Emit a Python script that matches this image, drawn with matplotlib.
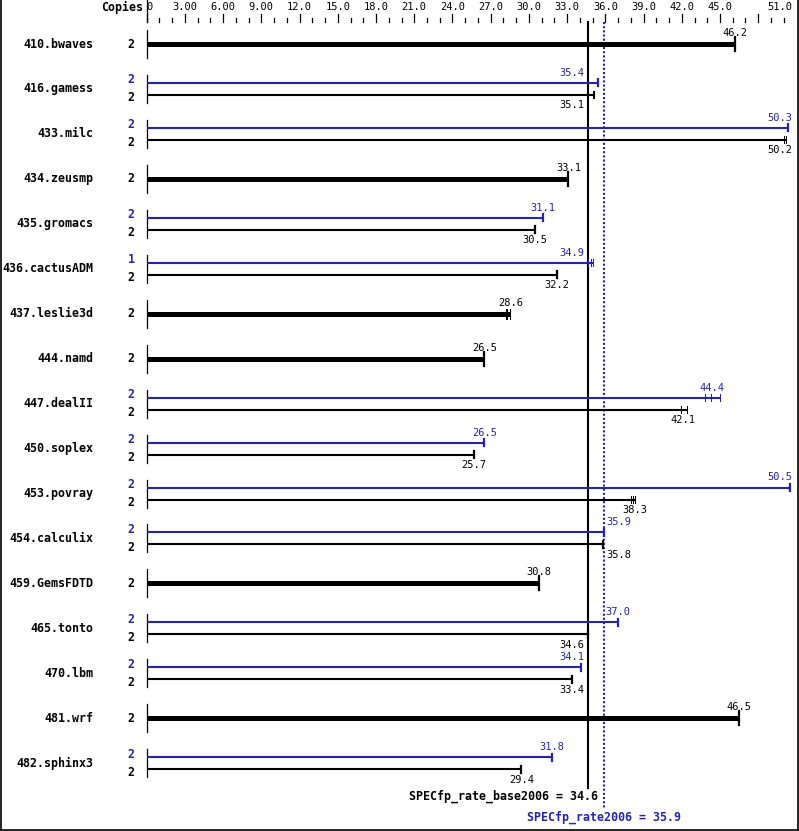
import numpy as np
from matplotlib import pyplot as plt

benchmarks = ['410.bwaves', '416.gamess', '433.milc', '434.zeusmp', '435.gromacs',
              '436.cactusADM', '437.leslie3d', '444.namd', '447.dealII', '450.soplex',
              '453.povray', '454.calculix', '459.GemsFDTD', '465.tonto', '470.lbm',
              '481.wrf', '482.sphinx3']
base_copies = [2, 2, 2, 2, 2, 2, 2, 2, 2, 2, 2, 2, 2, 2, 2, 2, 2]
peak_copies = [None, 2, 2, None, 2, 1, None, None, 2, 2, 2, 2, None, 2, 2, None, 2]
base_ratio = [46.2, 35.1, 50.2, 33.1, 30.5, 32.2, 28.6, 26.5, 42.1, 25.7,
              38.3, 35.8, 30.8, 34.6, 33.4, 46.5, 29.4]
peak_ratio = [None, 35.4, 50.3, None, 31.1, 34.9, None, None, 44.4, 26.5,
              50.5, 35.9, None, 37.0, 34.1, None, 31.8]
# other runs (small tick marks near the bar end)
base_runs = {'433.milc': [50.05, 50.2], '437.leslie3d': [28.2, 28.32, 28.55],
             '447.dealII': [41.9, 42.4], '453.povray': [38.05, 38.2, 38.35],
             '416.gamess': [35.0, 35.1]}
peak_runs = {'436.cactusADM': [34.65, 34.85, 35.05], '447.dealII': [43.8, 44.3, 45.0]}
base_mean = 34.6
peak_mean = 35.9
tick_labels = ['0', '3.00', '6.00', '9.00', '12.0', '15.0', '18.0', '21.0', '24.0',
               '27.0', '30.0', '33.0', '36.0', '39.0', '42.0', '45.0']
axis_max_label = '51.0'

BLUE = '#2424a8'
W, H = 799, 831
PX = 12.74       # pixels per unit
X0 = 146.7       # pixel position of 0


def px(v):
    # pixel width -> data width
    return v / PX


fig = plt.figure(figsize=(W / 100, H / 100), dpi=100)
ax = fig.add_axes([0, 0, 1, 1])
ax.set_xlim(-X0 / PX, (W - X0) / PX)
ax.set_ylim(H, 0)
ax.axis('off')

mono = 'DejaVu Sans Mono'
vsize = 7.5

# top scale
ax.plot([0, 0], [0, 22], color='black', lw=0.9)
for t in range(0, 51):
    top = 14 if (t % 3 == 0) else 18
    ax.plot([t, t], [top, 22], color='black', lw=0.9)
for i, lab in enumerate(tick_labels):
    ha = 'left' if i == 0 else 'center'
    ax.text(i * 3, 7, lab, ha=ha, va='center', fontsize=vsize, family=mono)
ax.text(px(W - 7 - X0), 7, axis_max_label, ha='right', va='center', fontsize=vsize, family=mono)
ax.text(-px(4), 7, 'Copies', ha='right', va='center', fontsize=8.4, family=mono, weight='bold')

# mean lines
ax.plot([base_mean, base_mean], [22, 788], color='black', lw=1.5)
ax.plot([peak_mean, peak_mean], [22, 808], color=BLUE, lw=1.5, ls=(0, (1, 1)))


def label_x(v):
    # place value label, avoid the mean lines like the original does
    c = X0 + v * PX
    half = 12.5
    line_b = X0 + base_mean * PX
    line_p = X0 + peak_mean * PX
    if c + half > line_b - 1 and c - half < line_p + 1:
        if c < (line_b + line_p) / 2 + 3:
            return px(line_b - 3 - X0), 'right'
        return px(line_p + 2 - X0), 'left'
    if c + half > W - 7:
        return px(W - 7 - X0), 'right'
    return v, 'center'


def draw_bar(y, v, runs, color, lw, cap, label_dy):
    end = max(runs) if runs else v
    ax.plot([0, end], [y, y], color=color, lw=lw, solid_capstyle='butt')
    if runs:
        for r in runs:
            ax.plot([r, r], [y - min(cap, 5), y + min(cap, 5)], color=color, lw=0.75)
    else:
        ax.plot([v, v], [y - cap, y + cap], color=color, lw=1.6)
    lx, ha = label_x(v)
    ax.text(lx, y + label_dy, f'{v:.1f}', ha=ha, va='center', fontsize=vsize,
            family=mono, color=color)


for i, name in enumerate(benchmarks):
    c = 44 + 44.95 * i
    ax.plot([0, 0], [c - 14, c + 14], color='black', lw=0.9)
    ax.text(-px(X0 - 93), c, name, ha='right', va='center', fontsize=8.4,
            family=mono, weight='bold')
    if peak_ratio[i] is None:
        ax.text(-px(X0 - 131), c, str(base_copies[i]), ha='center', va='center',
                fontsize=8.4, family=mono, weight='bold')
        draw_bar(c, base_ratio[i], base_runs.get(name), 'black', 3.6, 7, -11)
    else:
        yp, yb = c - 6, c + 6
        ax.text(-px(X0 - 131), yp - 3, str(peak_copies[i]), ha='center', va='center',
                fontsize=8.4, family=mono, weight='bold', color=BLUE)
        ax.text(-px(X0 - 131), yb + 3, str(base_copies[i]), ha='center', va='center',
                fontsize=8.4, family=mono, weight='bold')
        draw_bar(yp, peak_ratio[i], peak_runs.get(name), BLUE, 1.5, 3.5, -10)
        draw_bar(yb, base_ratio[i], base_runs.get(name), 'black', 1.5, 3.5, 10.5)

ax.text(px(598 - X0), 796, f'SPECfp_rate_base2006 = {base_mean}', ha='right', va='center',
        fontsize=8.4, family=mono, weight='bold')
ax.text(peak_mean, 817, f'SPECfp_rate2006 = {peak_mean}', ha='center', va='center',
        fontsize=8.4, family=mono, weight='bold', color=BLUE)

# frame
xl = ax.get_xlim()
ax.plot([xl[0] + px(1), xl[0] + px(1)], [0, H - 1.5], color='black', lw=1.2)
ax.plot([xl[1] - px(1.5), xl[1] - px(1.5)], [0, H - 1.5], color='black', lw=1.2)
ax.plot([xl[0], xl[1]], [H - 1.5, H - 1.5], color='black', lw=1.2)

fig.savefig('out.png', dpi=100)
